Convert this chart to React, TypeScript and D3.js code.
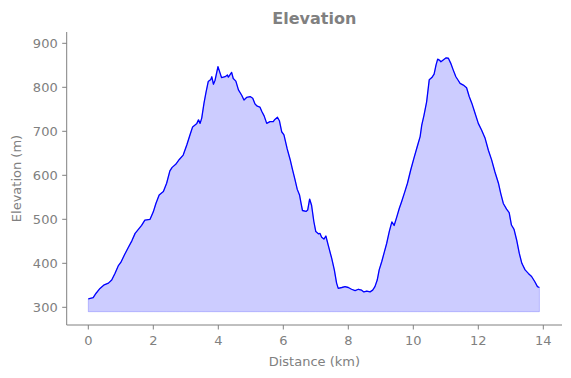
import React from "react";
import * as d3 from "d3";

const distanceKm = [
  0.0, 0.15, 0.24, 0.36, 0.49, 0.62, 0.72, 0.82, 0.92, 1.0, 1.11, 1.23, 1.34, 1.44, 1.54, 1.64, 1.74, 1.9, 2.0, 2.08,
  2.18, 2.31, 2.41, 2.51, 2.58, 2.69, 2.8, 2.92, 3.03, 3.13, 3.21, 3.34, 3.39, 3.44, 3.49, 3.56, 3.62, 3.69, 3.77, 3.8,
  3.85, 3.9, 3.99, 4.1, 4.21, 4.28, 4.31, 4.41, 4.46, 4.54, 4.62, 4.72, 4.79, 4.87, 4.98, 5.06, 5.13, 5.2, 5.28, 5.34,
  5.41, 5.49, 5.59, 5.69, 5.74, 5.82, 5.88, 5.95, 6.02, 6.12, 6.21, 6.28, 6.36, 6.43, 6.5, 6.55, 6.59, 6.7, 6.75, 6.81,
  6.87, 6.94, 7.0, 7.08, 7.13, 7.18, 7.25, 7.31, 7.38, 7.49, 7.57, 7.64, 7.69, 7.8, 7.9, 8.0, 8.1, 8.21, 8.31, 8.41,
  8.48, 8.57, 8.67, 8.75, 8.82, 8.89, 8.95, 9.03, 9.11, 9.18, 9.26, 9.34, 9.41, 9.49, 9.57, 9.64, 9.74, 9.82, 9.92, 10.02,
  10.12, 10.21, 10.26, 10.33, 10.41, 10.49, 10.57, 10.64, 10.7, 10.75, 10.8, 10.85, 10.92, 11.01, 11.08, 11.15, 11.23, 11.31, 11.38, 11.44,
  11.54, 11.64, 11.72, 11.8, 11.9, 12.0, 12.1, 12.21, 12.31, 12.41, 12.51, 12.62, 12.69, 12.77, 12.87, 12.95, 13.02, 13.1, 13.18, 13.26,
  13.34, 13.44, 13.54, 13.64, 13.74, 13.82, 13.88,
];

const elevationM = [
  319, 322, 332, 343, 351, 355, 362, 377, 394, 402, 419, 436, 451, 468, 477, 486, 498, 500, 517, 536,
  555, 563, 582, 610, 618, 625, 636, 646, 669, 692, 710, 718, 726, 718, 730, 764, 788, 813, 818, 824,
  807, 816, 847, 822, 824, 828, 823, 834, 820, 814, 794, 782, 771, 777, 779, 775, 762, 757, 755, 745,
  735, 718, 722, 722, 727, 732, 724, 699, 692, 660, 636, 614, 590, 568, 555, 535, 520, 518, 521, 546,
  532, 495, 472, 467, 468, 459, 455, 462, 442, 411, 385, 355, 343, 345, 347, 345, 341, 338, 341, 339,
  335, 337, 335, 339, 347, 362, 385, 404, 426, 445, 472, 494, 486, 505, 525, 540, 563, 582, 612, 639,
  665, 688, 714, 737, 767, 817, 822, 830, 851, 864, 862, 858, 862, 867, 866, 855, 839, 824, 816, 809,
  805, 799, 779, 764, 741, 718, 703, 684, 657, 635, 608, 582, 559, 536, 523, 515, 487, 477, 453, 423,
  400, 385, 377, 370, 358, 347, 345,
];

const xTicks = [0, 2, 4, 6, 8, 10, 12, 14];
const yTicks = [300, 400, 500, 600, 700, 800, 900];
const fillBase = 290;

const title = "Elevation";
const xLabel = "Distance (km)";
const yLabel = "Elevation (m)";

export default function App() {
  const W = 571;
  const H = 378;
  const left = 66.7;
  const right = 562;
  const top = 32;
  const bottom = 325;

  const x = d3.scaleLinear().domain([0, 14]).range([88.3, 543.3]);
  const y = d3.scaleLinear().domain([300, 900]).range([307.3, 43.3]);

  const pts = distanceKm.map((d, i) => [d, elevationM[i]] as [number, number]);
  const line = d3
    .line<[number, number]>()
    .x((d) => x(d[0]))
    .y((d) => y(d[1]));
  const area = d3
    .area<[number, number]>()
    .x((d) => x(d[0]))
    .y0(() => y(fillBase))
    .y1((d) => y(d[1]));

  const gray = "#808080";
  const font = "DejaVu Sans, sans-serif";

  return (
    <svg
      width={W}
      height={H}
      style={{ position: "absolute", left: 0, top: 0, background: "#fff" }}
      fontFamily={font}
    >
      <rect x={0} y={0} width={W} height={H} fill="#fff" />
      <path
        d={area(pts) || ""}
        fill="rgba(0,0,255,0.2)"
        stroke="rgba(0,0,255,0.2)"
        strokeWidth={1}
      />
      <path d={line(pts) || ""} fill="none" stroke="#0000ff" strokeWidth={1.3} strokeLinejoin="round" />

      {/* spines */}
      <line x1={left} y1={top} x2={left} y2={bottom} stroke={gray} strokeWidth={1} />
      <line x1={left} y1={bottom} x2={right} y2={bottom} stroke={gray} strokeWidth={1} />

      {xTicks.map((t) => (
        <g key={"x" + t}>
          <line x1={x(t)} x2={x(t)} y1={bottom} y2={bottom + 4.5} stroke={gray} strokeWidth={1} />
          <text x={x(t)} y={bottom + 20} textAnchor="middle" fontSize={13} fill={gray}>
            {t}
          </text>
        </g>
      ))}
      {yTicks.map((t) => (
        <g key={"y" + t}>
          <line x1={left - 4.5} x2={left} y1={y(t)} y2={y(t)} stroke={gray} strokeWidth={1} />
          <text x={left - 9} y={y(t) + 4.5} textAnchor="end" fontSize={13} fill={gray}>
            {t}
          </text>
        </g>
      ))}

      <text x={(left + right) / 2} y={366} textAnchor="middle" fontSize={13} fill={gray}>
        {xLabel}
      </text>
      <text
        transform={`translate(21, ${(top + bottom) / 2}) rotate(-90)`}
        textAnchor="middle"
        fontSize={13}
        fill={gray}
      >
        {yLabel}
      </text>
      <text x={(left + right) / 2} y={24} textAnchor="middle" fontSize={16} fontWeight="bold" fill={gray}>
        {title}
      </text>
    </svg>
  );
}
